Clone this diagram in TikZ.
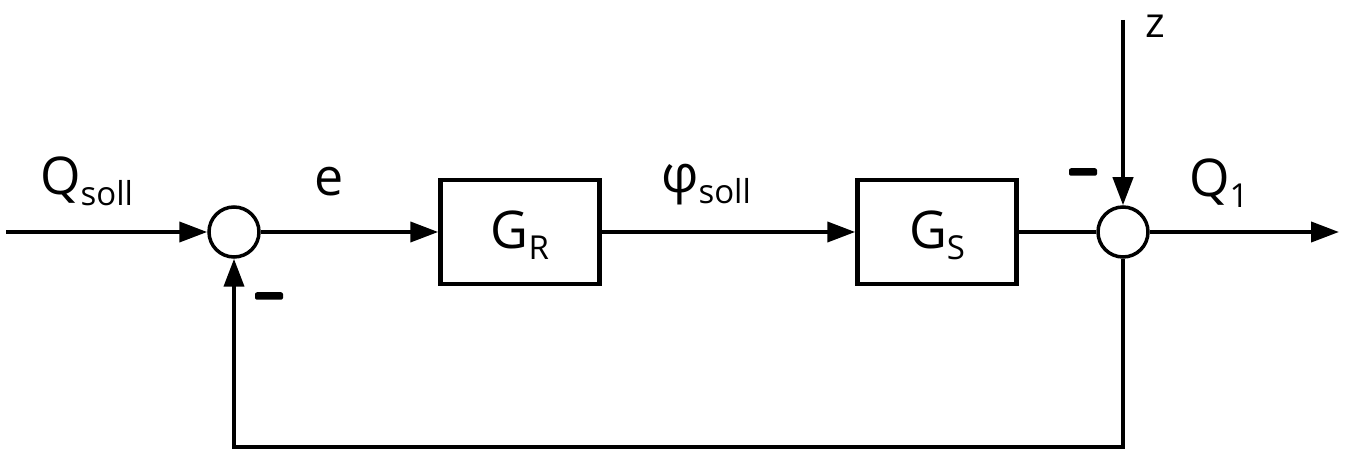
\documentclass[tikz,border=0pt]{standalone}
\usepackage{fontspec}
\setmainfont{Open Sans}
\usetikzlibrary{arrows.meta}
\newcommand{\subtxt}[1]{\raisebox{-0.2em}{\fontsize{33}{33}\selectfont #1}}
\begin{document}
\begin{tikzpicture}[x=1pt,y=-1pt,
  sig/.style={line width=4pt,-{Triangle[length=28pt,width=20pt]}},
  wire/.style={line width=4pt},
  blk/.style={draw,line width=4.5pt,minimum width=159pt,minimum height=104pt,inner sep=0pt},
  sumpt/.style={draw,circle,line width=3.5pt,minimum size=50pt,inner sep=0pt},
  lbl/.style={font=\fontsize{52}{52}\selectfont,inner sep=0pt},
  minus/.style={fill=black,rounded corners=2pt,minimum width=28pt,minimum height=7.5pt,inner sep=0pt}]
\useasboundingbox (0,0) rectangle (1347,462);
\coordinate (in) at (6,232);
\node[sumpt] (s1) at (234,232) {};
\node[blk] (gr) at (520,232) {};
\node[lbl,anchor=base] (tgr) at (520,249) {G\subtxt{R}};
\node[blk] (gs) at (937,232) {};
\node[lbl,anchor=base] (tgs) at (937,249) {G\subtxt{S}};
\node[sumpt] (s2) at (1123,232) {};
\coordinate (out) at (1339,232);
\coordinate (zin) at (1123,20);
\coordinate (fbr) at (1123,447);
\coordinate (fbl) at (234,447);
\draw[sig] (in) -- (s1.west);
\draw[sig] (s1.east) -- (gr.west);
\draw[sig] (gr.east) -- (gs.west);
\draw[wire] (gs.east) -- (s2.west);
\draw[sig] (s2.east) -- (out);
\draw[sig] (zin) -- (s2.north);
\draw[sig,line join=miter] (s2.south) -- (fbr) -- (fbl) -- (s1.south);
\node[lbl,anchor=base west] (lq) at (40,195) {Q\subtxt{soll}};
\node[lbl,anchor=base west] (le) at (314,196) {e};
\node[lbl,anchor=base west] (lphi) at (661,193) {φ\subtxt{soll}};
\node[lbl,anchor=base west] (lq1) at (1189,197) {Q\subtxt{1}};
\node[lbl,anchor=base west,font=\fontsize{42}{42}\selectfont] (lz) at (1145,38) {z};
\node[minus] (m1) at (269,296) {};
\node[minus] (m2) at (1083,172) {};
\end{tikzpicture}
\end{document}
